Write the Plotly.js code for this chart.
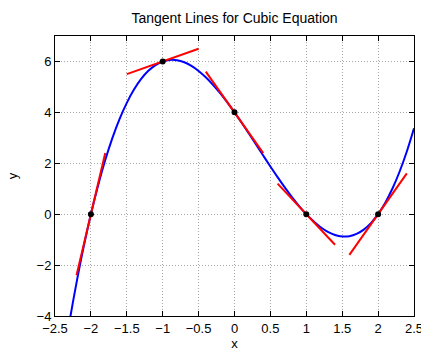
<!DOCTYPE html>
<html>
<head>
<meta charset="utf-8">
<script src="https://cdn.plot.ly/plotly-3.0.1.min.js"></script>
<style>html,body{margin:0;padding:0;background:#fff;}#chart{width:421px;height:353px;}</style>
</head>
<body>
<div id="chart"></div>
<script>
// Cubic curve samples (x, y)
const curveX = [-2.5,-2.4,-2.3,-2.2,-2.1,-2.0,-1.9,-1.8,-1.7,-1.6,-1.5,-1.4,-1.3,-1.2,-1.1,-1.0,-0.9,-0.8,-0.7,-0.6,-0.5,-0.4,-0.3,-0.2,-0.1,0,0.1,0.2,0.3,0.4,0.5,0.6,0.7,0.8,0.9,1.0,1.1,1.2,1.3,1.4,1.5,1.6,1.7,1.8,1.9,2.0,2.1,2.2,2.3,2.4,2.5];
const curveY = [-7.875,-5.984,-4.257,-2.688,-1.271,0,1.131,2.128,2.997,3.744,4.375,4.896,5.313,5.632,5.859,6,6.061,6.048,5.967,5.824,5.625,5.376,5.083,4.752,4.389,4,3.591,3.168,2.737,2.304,1.875,1.456,1.053,0.672,0.319,0,-0.279,-0.512,-0.693,-0.816,-0.875,-0.864,-0.777,-0.608,-0.351,0,0.451,1.008,1.677,2.464,3.375];

// Tangent points
const pointX = [-2, -1, 0, 1, 2];
const pointY = [0, 6, 4, 0, 0];

// Tangent segment endpoints
const tanX0 = [-2.2, -1.5, -0.4, 0.6, 1.6];
const tanY0 = [-2.4, 5.5, 5.6, 1.2, -1.6];
const tanX1 = [-1.8, -0.5, 0.4, 1.4, 2.4];
const tanY1 = [2.4, 6.5, 2.4, -1.2, 1.6];

const xTicks = [-2.5,-2,-1.5,-1,-0.5,0,0.5,1,1.5,2,2.5];
const yTicks = [-4,-2,0,2,4,6];

const traces = [];
traces.push({x: curveX, y: curveY, mode: 'lines', line: {color: '#0000ff', width: 2, shape: 'spline'}, hoverinfo: 'skip'});
for (let i = 0; i < pointX.length; i++) {
  traces.push({x: [tanX0[i], tanX1[i]], y: [tanY0[i], tanY1[i]], mode: 'lines', line: {color: '#ff0000', width: 2}, hoverinfo: 'skip'});
}
traces.push({x: pointX, y: pointY, mode: 'markers', marker: {color: '#000000', size: 6}, hoverinfo: 'skip'});

const FONT = 'Liberation Sans, Arial, sans-serif';
const axisCommon = {
  showline: true, linecolor: '#000', linewidth: 1, mirror: 'ticks',
  ticks: 'inside', ticklen: 5, tickcolor: '#000',
  showgrid: true, gridcolor: '#a8a8a8', griddash: '1px,2px', gridwidth: 1,
  zeroline: false, ticklabeloverflow: 'allow',
  tickfont: {family: FONT, size: 13, color: '#000'}
};

const layout = {
  width: 421, height: 353,
  margin: {l: 55, r: 7, t: 36, b: 37},
  paper_bgcolor: '#fff', plot_bgcolor: '#fff',
  showlegend: false,
  title: {text: 'Tangent Lines for Cubic Equation', x: 0.5, xanchor: 'center', xref: 'paper', y: 1 - 18/353, yanchor: 'middle',
          font: {family: FONT, size: 14, color: '#000'}},
  xaxis: Object.assign({}, axisCommon, {range: [-2.5, 2.5], tickvals: xTicks, ticktext: xTicks.map(v => String(v).replace('-', '\u2212')),
    title: {text: 'x', standoff: 4, font: {family: FONT, size: 13, color: '#000'}}}),
  yaxis: Object.assign({}, axisCommon, {range: [-4, 7], tickvals: yTicks, ticktext: yTicks.map(v => String(v).replace('-', '\u2212')),
    title: {text: 'y', standoff: 16, font: {family: FONT, size: 13, color: '#000'}}})
};

Plotly.newPlot('chart', traces, layout, {displayModeBar: false, staticPlot: true});
</script>
</body>
</html>
